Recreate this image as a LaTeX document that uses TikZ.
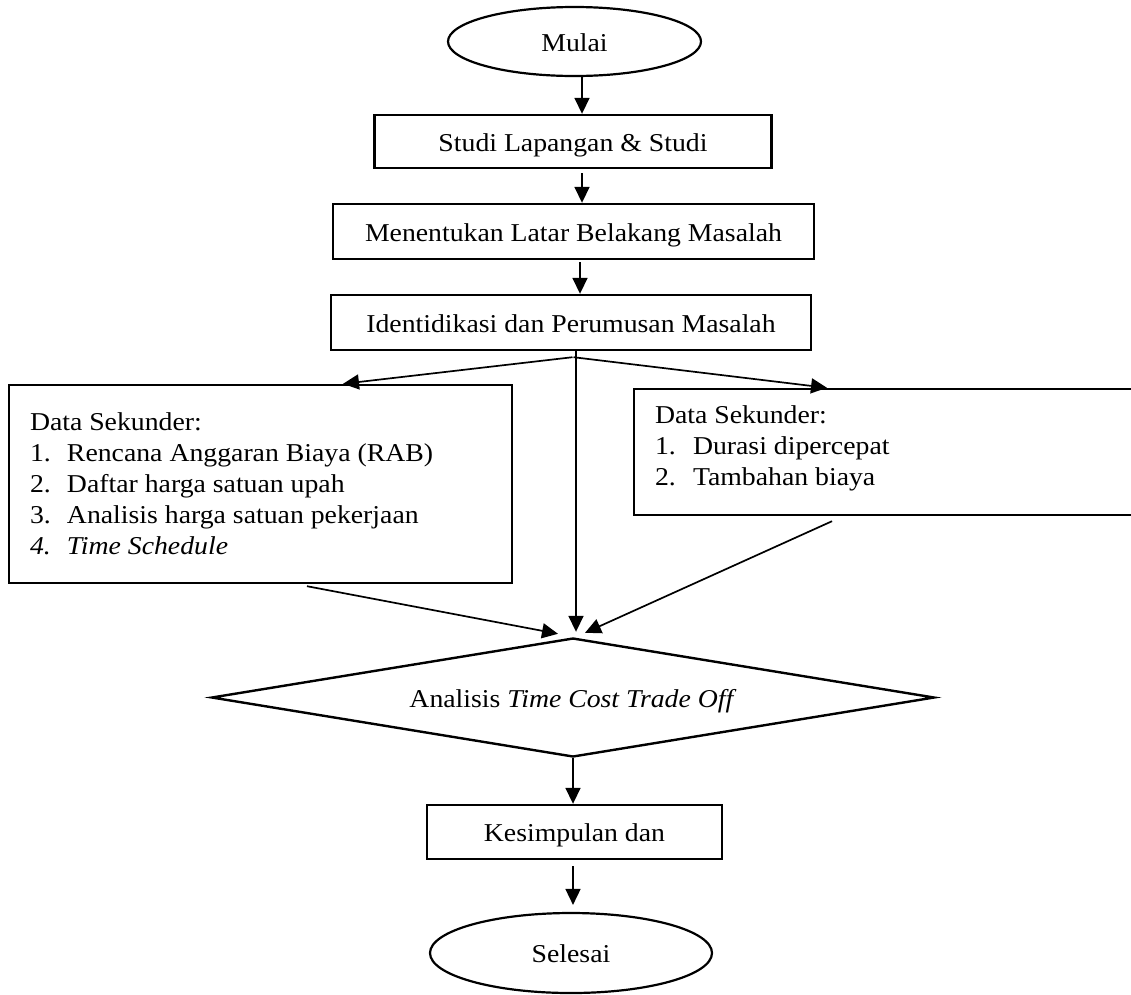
\documentclass[tikz,border=0pt]{standalone}
\usepackage{fontspec}
\setmainfont{Liberation Serif}[FakeStretch=1.08]
\usetikzlibrary{shapes.geometric,arrows.meta,calc}
\begin{document}
\begin{tikzpicture}[x=1pt,y=-1pt,
  font=\fontsize{25.7pt}{31pt}\selectfont,
  boxnode/.style={draw, rectangle, line width=2.4pt, inner sep=0pt, text height=19pt, text depth=0pt},
  termnode/.style={draw, ellipse, line width=2.2pt, inner sep=0pt, text height=19pt, text depth=0pt},
  decnode/.style={draw, diamond, aspect=6, line width=2.4pt, inner sep=0pt, text height=19pt, text depth=0pt},
  arr/.style={line width=1.7pt, -{Triangle[length=16pt,width=15pt]}},
  listtext/.style={inner sep=0pt, anchor=base west}]
\useasboundingbox (0,0) rectangle (1131,994);

% nodes
\node[termnode, minimum width=253pt, minimum height=69pt] (mulai) at (574.5,41.5) {Mulai};
\node[boxnode, minimum width=397pt, minimum height=53pt] (studi) at (573,141.5) {Studi Lapangan \& Studi};
\node[boxnode, minimum width=481pt, minimum height=55pt] (latar) at (573.5,231.5) {Menentukan Latar Belakang Masalah};
\node[boxnode, minimum width=480pt, minimum height=55pt] (ident) at (571,322.5) {Identidikasi dan Perumusan Masalah};

\node[boxnode, minimum width=503pt, minimum height=198pt] (lbox) at (260.5,484) {};
\node[listtext] (ltext) at ([xshift=22pt,yshift=-47pt]lbox.north west)
  {\begin{tabular}[t]{@{}l@{}}
   Data Sekunder:\\
   \makebox[37pt][l]{1.}Rencana Anggaran Biaya (RAB)\\
   \makebox[37pt][l]{2.}Daftar harga satuan upah\\
   \makebox[37pt][l]{3.}Analisis harga satuan pekerjaan\\
   \makebox[37pt][l]{\itshape 4.}\textit{Time Schedule}
   \end{tabular}};

\node[boxnode, minimum width=506pt, minimum height=126pt] (rbox) at (887,452) {};
\node[listtext] (rtext) at ([xshift=22pt,yshift=-36pt]rbox.north west)
  {\begin{tabular}[t]{@{}l@{}}
   Data Sekunder:\\
   \makebox[38pt][l]{1.}Durasi dipercepat\\
   \makebox[38pt][l]{2.}Tambahan biaya
   \end{tabular}};

\node[decnode, minimum width=723pt, minimum height=119pt] (tcto) at (573,697.5) {Analisis \textit{Time Cost Trade Off}};
\node[boxnode, minimum width=295pt, minimum height=54pt] (kesim) at (574.5,832) {Kesimpulan dan};
\node[termnode, minimum width=282pt, minimum height=80pt] (selesai) at (571,953) {Selesai};

% connectors
\draw[arr] ([xshift=7.5pt]mulai.south) -- ([xshift=9pt]studi.north);
\draw[arr] ([xshift=9pt,yshift=-4pt]studi.south) -- ([xshift=8.5pt]latar.north);
\draw[arr] ([xshift=6.5pt,yshift=-2pt]latar.south) -- ([xshift=9pt]ident.north);

\coordinate (split) at ([xshift=1.5pt,yshift=-6pt]ident.south);
\draw[arr] (split) -- ([xshift=82.5pt]lbox.north);
\draw[arr] ([xshift=1pt]split) -- ([xshift=-60pt]rbox.north);
\draw[arr] ([xshift=5pt]ident.south) -- ([xshift=3pt,yshift=5pt]tcto.north);
\draw[arr] ([xshift=46.5pt,yshift=-2pt]lbox.south) -- ([xshift=-15pt,yshift=3pt]tcto.north);
\draw[arr] ([xshift=-55pt,yshift=-5pt]rbox.south) -- ([xshift=12pt,yshift=4pt]tcto.north);
\draw[arr] (tcto.south) -- (tcto.south |- kesim.north);
\draw[arr] ([xshift=-1.5pt,yshift=-6pt]kesim.south) -- ([xshift=-1.5pt,yshift=7pt]kesim.south |- selesai.north);
\end{tikzpicture}
\end{document}
